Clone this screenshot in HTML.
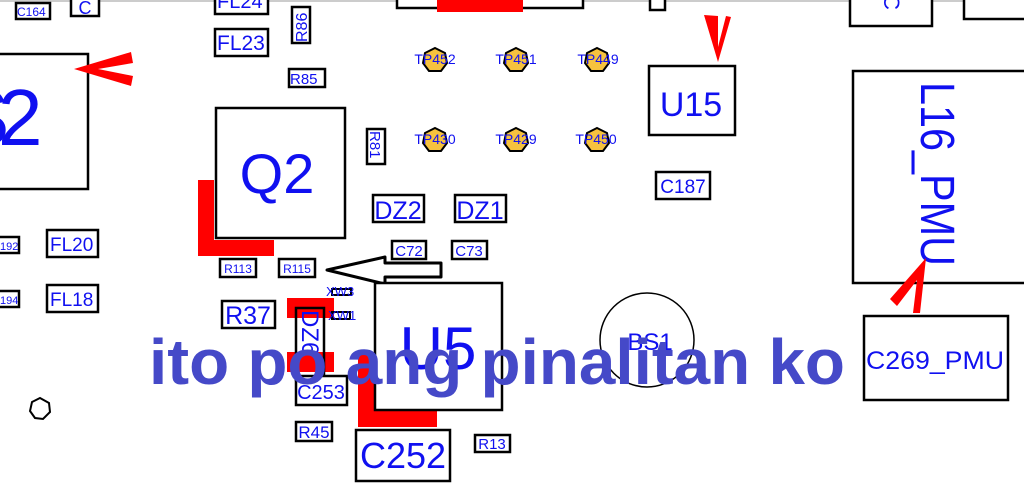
<!DOCTYPE html>
<html><head><meta charset="utf-8"><style>
html,body{margin:0;padding:0;background:#fff;width:1024px;height:493px;overflow:hidden}
svg{display:block}
text{font-family:"Liberation Sans",sans-serif;fill:#1010f0}
.b{fill:#fff;stroke:#000;stroke-width:2.5}
</style></head><body>
<svg width="1024" height="493" viewBox="0 0 1024 493" xmlns="http://www.w3.org/2000/svg">
<line x1="0" y1="1" x2="1024" y2="1" stroke="#ccc" stroke-width="2"/>
<rect class="b" x="16" y="3" width="34" height="16"/><text x="17" y="16" font-size="12">C164</text>
<rect class="b" x="71" y="-2" width="28" height="18"/><text x="85" y="14" font-size="18" text-anchor="middle">C</text>
<rect class="b" x="215" y="-2" width="53" height="16"/><text x="217" y="8" font-size="20">FL24</text>
<rect class="b" x="215" y="29" width="53" height="27"/><text x="217" y="50" font-size="21">FL23</text>
<rect class="b" x="292" y="7" width="18" height="36"/><text transform="translate(307,42) rotate(-90)" font-size="16">R86</text>
<rect class="b" x="289" y="69" width="36" height="18"/><text x="290" y="84" font-size="15">R85</text>
<rect class="b" x="397" y="-2" width="186" height="10"/>
<rect x="437" y="0" width="86" height="12" fill="#f00"/>
<rect class="b" x="650" y="-2" width="15" height="12"/>
<rect class="b" x="850" y="-2" width="82" height="28"/><text transform="translate(892,2) rotate(90)" font-size="22" text-anchor="middle" dy="8">C</text>
<rect class="b" x="964" y="-2" width="62" height="21"/>
<rect class="b" x="-5" y="54" width="93" height="135"/><text x="-2" y="145" font-size="80">2</text><text x="-44" y="145" font-size="80">S</text>
<polygon points="74,69 131,52 133,63 98,69 133,76 131,86" fill="#f00"/>
<rect class="b" x="216" y="108" width="129" height="130"/><text x="277" y="193" font-size="56" text-anchor="middle">Q2</text>
<rect class="b" x="367" y="129" width="18" height="35"/><text transform="translate(370,131) rotate(90)" font-size="15">R81</text>
<g stroke="#000" stroke-width="2" fill="#f6c23e">
<polygon points="435,48 445,53 447,63 441,71 429,71 423,63 425,53"/>
<polygon points="516,48 526,53 528,63 522,71 510,71 504,63 506,53"/>
<polygon points="597,48 607,53 609,63 603,71 591,71 585,63 587,53"/>
<polygon points="435,128 445,133 447,143 441,151 429,151 423,143 425,133"/>
<polygon points="516,128 526,133 528,143 522,151 510,151 504,143 506,133"/>
<polygon points="597,128 607,133 609,143 603,151 591,151 585,143 587,133"/>
</g>
<g font-size="14" text-anchor="middle">
<text x="435" y="64">TP452</text><text x="516" y="64">TP451</text><text x="598" y="64">TP449</text>
<text x="435" y="144">TP430</text><text x="516" y="144">TP429</text><text x="596" y="144">TP450</text>
</g>
<rect class="b" x="373" y="195" width="51" height="27"/><text x="398" y="219" font-size="25" text-anchor="middle">DZ2</text>
<rect class="b" x="455" y="195" width="51" height="27"/><text x="480" y="219" font-size="25" text-anchor="middle">DZ1</text>
<rect class="b" x="392" y="241" width="34" height="18"/><text x="409" y="256" font-size="15" text-anchor="middle">C72</text>
<rect class="b" x="452" y="241" width="35" height="18"/><text x="469" y="256" font-size="15" text-anchor="middle">C73</text>
<polygon points="198,180 214,180 214,240 274,240 274,256 198,256" fill="#f00"/>
<rect class="b" x="220" y="259" width="36" height="18"/><text x="238" y="273" font-size="12" text-anchor="middle">R113</text>
<rect class="b" x="279" y="259" width="36" height="18"/><text x="297" y="273" font-size="12" text-anchor="middle">R115</text>
<polygon points="327,270 385,257 385,263 441,263 441,277 385,277 385,284" fill="none" stroke="#000" stroke-width="3" stroke-linejoin="round"/>
<rect class="b" x="-3" y="237" width="22" height="16"/><text x="0" y="250" font-size="11">192</text>
<rect class="b" x="-3" y="291" width="22" height="16"/><text x="0" y="304" font-size="11">194</text>
<rect class="b" x="47" y="230" width="51" height="27"/><text x="50" y="251" font-size="19">FL20</text>
<rect class="b" x="47" y="285" width="51" height="27"/><text x="50" y="306" font-size="19">FL18</text>
<polygon points="40,398 49,403 50,412 43,419 35,418 30,411 32,402" fill="none" stroke="#000" stroke-width="2"/>
<rect class="b" x="222" y="301" width="53" height="27"/><text x="248" y="324" font-size="25" text-anchor="middle">R37</text>
<polygon points="287,298 334,298 334,318 287,318" fill="#f00"/>
<polygon points="287,352 334,352 334,372 287,372" fill="#f00"/>
<rect x="332" y="289" width="19" height="6" fill="none" stroke="#000" stroke-width="2"/><text x="326" y="296" font-size="13">XW3</text>
<rect x="332" y="312" width="18" height="7" fill="none" stroke="#000" stroke-width="2"/><text x="328" y="320" font-size="13">XW1</text>
<rect x="296" y="308" width="28" height="72" fill="none" stroke="#000" stroke-width="2.5"/>
<text transform="translate(302,310) rotate(90)" font-size="24">DZ6</text>
<polygon points="358,352 375,352 375,410 437,410 437,427 358,427" fill="#f00"/>
<rect class="b" x="375" y="283" width="127" height="127"/><text x="438" y="369" font-size="60" text-anchor="middle">U5</text>
<rect class="b" x="296" y="376" width="51" height="29"/><text x="321" y="399" font-size="20" text-anchor="middle">C253</text>
<rect class="b" x="296" y="422" width="36" height="19"/><text x="314" y="438" font-size="17" text-anchor="middle">R45</text>
<rect class="b" x="356" y="430" width="94" height="51"/><text x="403" y="468" font-size="36" text-anchor="middle">C252</text>
<rect class="b" x="475" y="435" width="35" height="17"/><text x="492" y="449" font-size="15" text-anchor="middle">R13</text>
<polygon points="704,15 718,16 718,47 726,16 731,17 718,62" fill="#f00"/>
<rect class="b" x="649" y="66" width="86" height="69"/><text x="691" y="116" font-size="34" text-anchor="middle">U15</text>
<rect class="b" x="656" y="172" width="54" height="27"/><text x="683" y="193" font-size="19" text-anchor="middle">C187</text>
<rect class="b" x="853" y="71" width="180" height="212"/>
<text transform="translate(921,82) rotate(90)" font-size="48" textLength="184" lengthAdjust="spacingAndGlyphs">L16_PMU</text>
<polygon points="926,258 920,313 913,313 917,280 897,306 890,299" fill="#f00"/>
<rect class="b" x="864" y="316" width="144" height="84"/><text x="866" y="369" font-size="25" textLength="138" lengthAdjust="spacingAndGlyphs">C269_PMU</text>
<circle cx="647" cy="340" r="47" fill="none" stroke="#000" stroke-width="1.5"/>
<text x="650" y="350" font-size="24" text-anchor="middle">BS1</text>
<text x="149" y="384" font-size="64" font-weight="bold" style="fill:#4549c8" textLength="696" lengthAdjust="spacingAndGlyphs">ito po ang pinalitan ko</text>
</svg>
</body></html>
